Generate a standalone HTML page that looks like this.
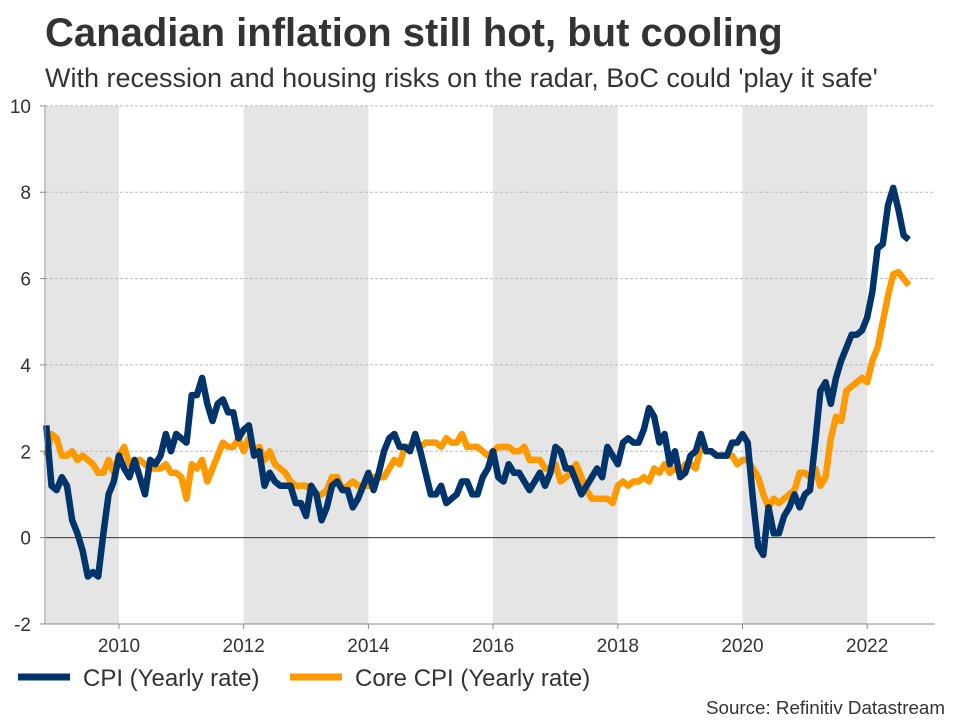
<!DOCTYPE html>
<html><head><meta charset="utf-8"><style>
body{margin:0;background:#fff;font-family:"Liberation Sans",sans-serif;}
#wrap{position:relative;width:960px;height:720px;overflow:hidden;}
</style></head><body>
<div id="wrap">
<svg id="chart" width="960" height="720" xmlns="http://www.w3.org/2000/svg">
<text x="45" y="46" font-size="40" font-weight="bold" fill="#333">Canadian inflation still hot, but cooling</text>
<text x="45" y="87" font-size="27" fill="#333">With recession and housing risks on the radar, BoC could 'play it safe'</text>
<g id="shade"></g><g id="grid"></g><g id="lines"></g><g id="axes"></g>
<g>
<line x1="18" y1="677" x2="70" y2="677" stroke="#00346b" stroke-width="7"/>
<text x="83" y="686" font-size="24" fill="#333">CPI (Yearly rate)</text>
<line x1="290" y1="677" x2="342" y2="677" stroke="#ff9900" stroke-width="7"/>
<text x="355" y="686" font-size="24" fill="#333">Core CPI (Yearly rate)</text>
</g>
<text x="945" y="714" font-size="18.8" fill="#333" text-anchor="end">Source: Refinitiv Datastream</text>
</svg></div>
<script>
const startYear = 2008, startMonth = 11;
const cpiValues = [2.6,1.2,
1.1,1.4,1.2,0.4,0.1,-0.3,-0.9,-0.8,-0.9,0.1,1.0,1.3,
1.9,1.6,1.4,1.8,1.4,1.0,1.8,1.7,1.9,2.4,2.0,2.4,
2.3,2.2,3.3,3.3,3.7,3.1,2.7,3.1,3.2,2.9,2.9,2.3,
2.5,2.6,1.9,2.0,1.2,1.5,1.3,1.2,1.2,1.2,0.8,0.8,
0.5,1.2,1.0,0.4,0.7,1.2,1.3,1.1,1.1,0.7,0.9,1.2,
1.5,1.1,1.5,2.0,2.3,2.4,2.1,2.1,2.0,2.4,2.0,1.5,
1.0,1.0,1.2,0.8,0.9,1.0,1.3,1.3,1.0,1.0,1.4,1.6,
2.0,1.4,1.3,1.7,1.5,1.5,1.3,1.1,1.3,1.5,1.2,1.5,
2.1,2.0,1.6,1.6,1.3,1.0,1.2,1.4,1.6,1.4,2.1,1.9,
1.7,2.2,2.3,2.2,2.2,2.5,3.0,2.8,2.2,2.4,1.7,2.0,
1.4,1.5,1.9,2.0,2.4,2.0,2.0,1.9,1.9,1.9,2.2,2.2,
2.4,2.2,0.9,-0.2,-0.4,0.7,0.1,0.1,0.5,0.7,1.0,0.7,
1.0,1.1,2.2,3.4,3.6,3.1,3.7,4.1,4.4,4.7,4.7,4.8,
5.1,5.7,6.7,6.8,7.7,8.1,7.6,7.0,6.9];
const coreValues = [1.9,2.4,
2.3,1.9,1.9,2.0,1.8,1.9,1.8,1.7,1.5,1.5,1.8,1.5,
1.9,2.1,1.7,1.7,1.8,1.7,1.6,1.6,1.6,1.7,1.5,1.5,
1.4,0.9,1.7,1.6,1.8,1.3,1.6,1.9,2.2,2.1,2.1,2.3,
2.0,2.3,2.0,2.1,1.8,2.0,1.7,1.6,1.5,1.3,1.2,1.2,
1.2,1.1,1.0,1.0,1.1,1.4,1.4,1.1,1.2,1.3,1.2,1.2,
1.2,1.4,1.4,1.4,1.6,1.8,1.7,2.1,2.1,2.3,2.1,2.2,
2.2,2.2,2.1,2.3,2.2,2.2,2.4,2.1,2.1,2.1,2.0,1.9,
2.0,2.1,2.1,2.1,2.0,2.0,2.1,1.8,1.8,1.8,1.6,1.6,
1.7,1.3,1.4,1.5,1.7,1.4,1.1,0.9,0.9,0.9,0.9,0.8,
1.2,1.3,1.2,1.3,1.3,1.4,1.3,1.6,1.5,1.7,1.5,1.6,
1.5,1.7,1.7,1.6,2.1,2.0,2.0,1.9,1.9,1.9,1.9,1.7,
1.8,1.8,1.6,1.4,1.0,0.7,0.9,0.8,0.9,1.0,1.1,1.5,
1.5,1.4,1.6,1.2,1.4,2.3,2.8,2.7,3.4,3.5,3.6,3.7,
3.6,4.1,4.4,5.0,5.6,6.1,6.15,6.0,5.85];
const yTicks = [-2,0,2,4,6,8,10];
const xTicks = [2010,2012,2014,2016,2018,2020,2022];
const shadeRanges = [[2008.83,2010],[2012,2014],[2016,2018],[2020,2022]];

const X0=45, X1=935;
const xs = t => 119 + (t-2010)*62.35;
const ys = v => 537.6 - v*43.17;
const NS='http://www.w3.org/2000/svg';
function mk(tag, parent, attrs){const e=document.createElementNS(NS,tag);for(const k in attrs)e.setAttribute(k,attrs[k]);parent.appendChild(e);return e;}
const shade=document.getElementById('shade'),grid=document.getElementById('grid'),lines=document.getElementById('lines'),axes=document.getElementById('axes');
shadeRanges.forEach(r=>{
  const a=Math.max(X0,xs(r[0])), b=xs(r[1]);
  const e=mk('rect',shade,{x:a,y:ys(10),width:b-a,height:ys(-2)-ys(10),fill:'#e5e5e5'});
  
  
});
yTicks.forEach(v=>{
  if(v!==-2){
    const l=mk('line',grid,{x1:X0,x2:X1,y1:ys(v),y2:ys(v),stroke:v===0?'#333':'#bbb','stroke-width':1,'stroke-dasharray':v===0?'':'3,2'});
    
    
  }
  const t=mk('text',axes,{x:31,y:ys(v)+7,'font-size':19,fill:'#333','text-anchor':'end'});
  t.textContent=v;
  
  
  const tk=mk('line',axes,{x1:X0-5,x2:X0,y1:ys(v),y2:ys(v),stroke:'#888'});
  
  
});
const ax=mk('line',axes,{x1:X0,x2:X0,y1:ys(10),y2:ys(-2),stroke:'#888'});


const bx=mk('line',axes,{x1:X0,x2:X1,y1:ys(-2),y2:ys(-2),stroke:'#888'});


xTicks.forEach(y=>{
  const t=mk('text',axes,{x:xs(y),y:652,'font-size':19,fill:'#333','text-anchor':'middle'});
  t.textContent=y;
  
  
  const tk=mk('line',axes,{x1:xs(y),x2:xs(y),y1:ys(-2),y2:ys(-2)+5,stroke:'#888'});
  
  
});
function path(vals,color,name){
  const d=vals.map((v,i)=>{const t=startYear+(startMonth-1+i)/12;return (i?'L':'M')+xs(t).toFixed(1)+','+ys(v).toFixed(1);}).join('');
  const p=mk('path',lines,{d:d,fill:'none',stroke:color,'stroke-width':6.5,'stroke-linejoin':'round'});
  
  
}
path(coreValues,'#ff9900','core-cpi-line');
path(cpiValues,'#00346b','cpi-line');
</script>
</body></html>
